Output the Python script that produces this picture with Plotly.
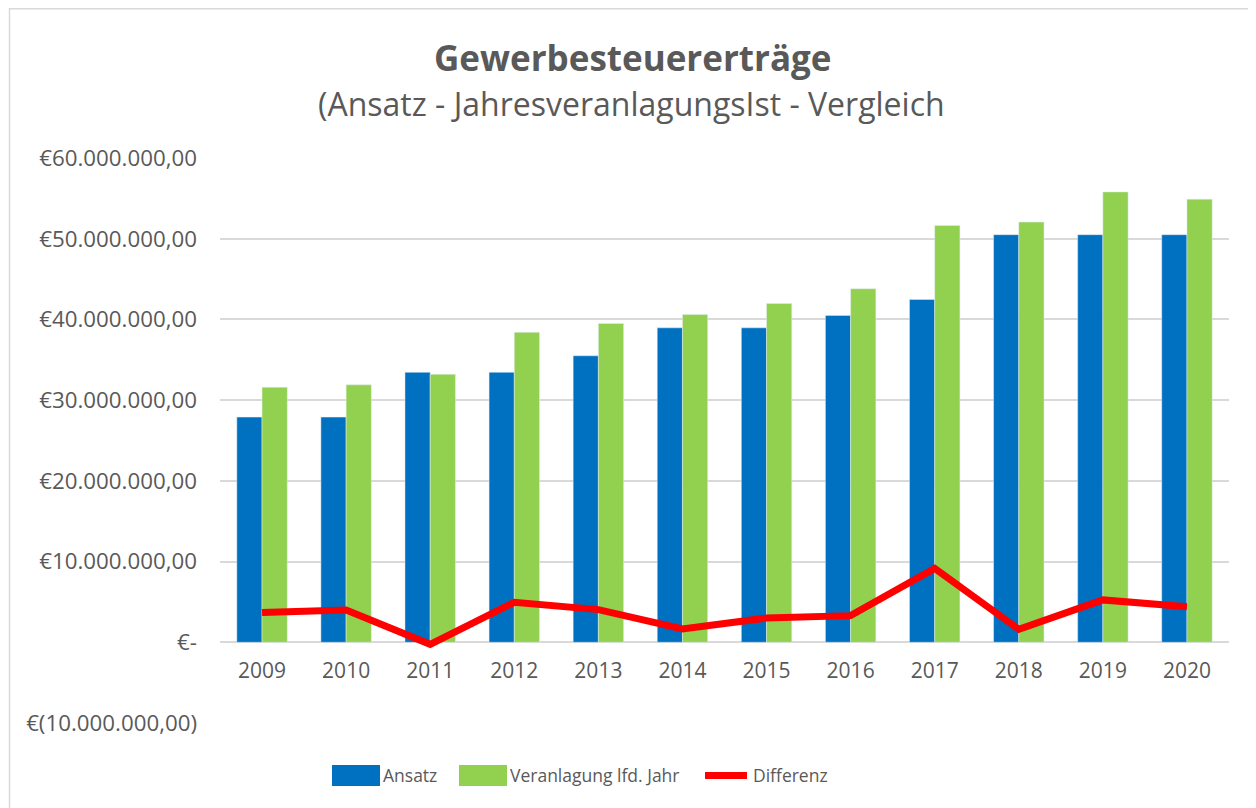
import plotly.graph_objects as go

years = ["2009", "2010", "2011", "2012", "2013", "2014", "2015", "2016", "2017", "2018", "2019", "2020"]
ansatz = [27.9e6, 27.9e6, 33.45e6, 33.45e6, 35.5e6, 38.96e6, 38.96e6, 40.5e6, 42.47e6, 50.5e6, 50.5e6, 50.5e6]
veranlagung = [31.6e6, 31.9e6, 33.2e6, 38.4e6, 39.5e6, 40.6e6, 41.97e6, 43.8e6, 51.65e6, 52.06e6, 55.8e6, 54.9e6]
differenz = [3.7e6, 4.0e6, -0.25e6, 4.96e6, 4.05e6, 1.65e6, 3.0e6, 3.3e6, 9.15e6, 1.6e6, 5.25e6, 4.4e6]

tick_vals = [-10e6, 0, 10e6, 20e6, 30e6, 40e6, 50e6, 60e6]
tick_text = ["€(10.000.000,00)", "€-", "€10.000.000,00", "€20.000.000,00", "€30.000.000,00",
             "€40.000.000,00", "€50.000.000,00", "€60.000.000,00"]

title = "Gewerbesteuererträge"
subtitle = "(Ansatz - JahresveranlagungsIst - Vergleich"
legend_names = ["Ansatz", "Veranlagung lfd. Jahr", "Differenz"]

FONT = "Open Sans, Carlito, sans-serif"
TXT = "#595959"
BLUE, GREEN, RED = "#0070C0", "#92D050", "#FF0000"

fig = go.Figure()
fig.add_trace(go.Bar(x=years, y=ansatz, name=legend_names[0], marker_color=BLUE, showlegend=False))
fig.add_trace(go.Bar(x=years, y=veranlagung, name=legend_names[1], marker_color=GREEN, showlegend=False))
fig.add_trace(go.Scatter(x=years, y=differenz, name=legend_names[2], mode="lines",
                         line=dict(color=RED, width=7), showlegend=False))

# page has an 8px body margin; work in page pixels and convert
OFF = 8
W, H = 1256 - OFF, 808 - OFF
PL, PR, PT, PB = 220, 1229, 158, 723  # plot area in page pixels
L, T = PL - OFF, PT - OFF
R = W - (PR - OFF)
B = H - (PB - OFF)
pw, ph = PR - PL, PB - PT

def px(pix):
    return (pix - PL) / pw

def py(pix):
    return (PB - pix) / ph

shapes = [dict(type="rect", xref="paper", yref="paper", x0=px(9.5), x1=px(1253.5), y0=py(812), y1=py(8.8),
               line=dict(color="#D9D9D9", width=1.5), fillcolor="rgba(0,0,0,0)", layer="below")]
# custom legend swatches
shapes.append(dict(type="rect", xref="paper", yref="paper", x0=px(332), x1=px(380), y0=py(786), y1=py(765),
                   line=dict(width=0), fillcolor=BLUE))
shapes.append(dict(type="rect", xref="paper", yref="paper", x0=px(459), x1=px(507), y0=py(786), y1=py(765),
                   line=dict(width=0), fillcolor=GREEN))
shapes.append(dict(type="line", xref="paper", yref="paper", x0=px(705), x1=px(747), y0=py(775.5), y1=py(775.5),
                   line=dict(width=7, color=RED)))

annotations = [
    dict(text="<b>" + title + "</b>", xref="paper", yref="paper", x=px(632), y=py(57),
         xanchor="center", yanchor="middle", showarrow=False,
         font=dict(size=35, color=TXT, family=FONT)),
    dict(text=subtitle, xref="paper", yref="paper", x=px(631), y=py(103),
         xanchor="center", yanchor="middle", showarrow=False,
         font=dict(size=32, color=TXT, family=FONT)),
]
for name, xl in zip(legend_names, [381, 508, 751]):
    annotations.append(dict(text=name, xref="paper", yref="paper", x=px(xl), y=py(775),
                            xanchor="left", yanchor="middle", showarrow=False,
                            font=dict(size=17.5, color=TXT, family=FONT)))

fig.update_layout(
    width=W, height=H,
    margin=dict(l=L, r=R, t=T, b=B),
    paper_bgcolor="white", plot_bgcolor="white",
    font=dict(family=FONT, color=TXT, size=19),
    barmode="group", bargap=0.4, bargroupgap=0,
    showlegend=False,
    xaxis=dict(type="category", anchor="free", position=10 / 70, showline=False, showgrid=False,
               ticks="", ticklabelstandoff=14, tickfont=dict(size=21, color=TXT)),
    yaxis=dict(range=[-10e6, 60e6], tickvals=tick_vals, ticktext=tick_text, showgrid=True,
               gridcolor="#D9D9D9", gridwidth=1.5, zeroline=True, zerolinecolor="#D9D9D9",
               zerolinewidth=1.5, showline=False, ticks="", ticklabelstandoff=22,
               tickfont=dict(size=22.3, color=TXT)),
    annotations=annotations,
    shapes=shapes,
)

fig.write_html("out.html")
